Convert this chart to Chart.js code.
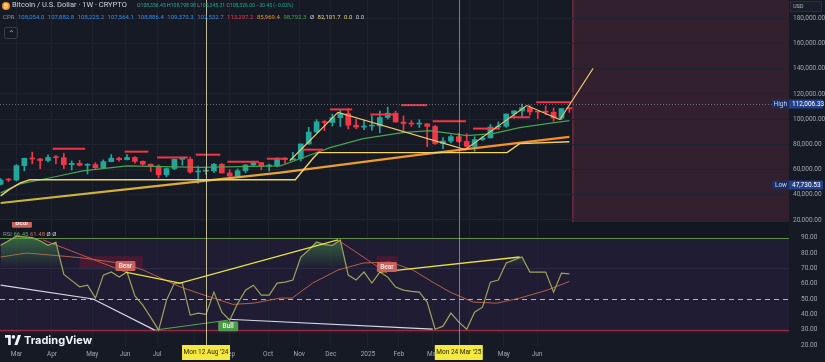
<!DOCTYPE html>
<html>
<head>
<meta charset="utf-8">
<script src="https://cdn.jsdelivr.net/npm/chart.js@4.4.1/dist/chart.umd.min.js"></script>
<style>
  html, body { margin: 0; padding: 0; width: 825px; height: 362px; overflow: hidden; background: #161a25; font-family: Roboto, "Liberation Sans", sans-serif; }
  #pricePane { position: absolute; left: 0; top: 0; width: 825px; height: 222px; }
  #rsiPane { position: absolute; left: 0; top: 222px; width: 825px; height: 140px; }
  .txt { position: absolute; white-space: nowrap; line-height: 1; }
  .coin { display: inline-block; width: 8px; height: 8px; border-radius: 50%; background: #f7931a; color: #fff; font-size: 6px; text-align: center; line-height: 8px; vertical-align: -1px; margin-right: 2px; }
  .g { color: #8c8f99; }
  .t { color: #22ab94; }
  .b { color: #2e8ff0; margin-right: 3.5px; }
  #cpr span { margin-right: 3.5px; }
  #btn { position: absolute; left: 4px; top: 27px; width: 12px; height: 10px; border: 1px solid #363a45; border-radius: 2px; color: #b2b5be; font-size: 8px; text-align: center; line-height: 12px; }
  #usd { position: absolute; left: 790px; top: 1px; width: 32px; height: 11px; background: #1b1f2b; border: 1px solid #2a2e39; box-sizing: border-box; color: #b2b5be; font-size: 5.5px; line-height: 9px; padding-left: 2px; }
  #logo { position: absolute; left: 5px; top: 334px; color: #f0f3fa; font-family: Inter, Roboto, sans-serif; font-weight: 700; font-size: 11px; line-height: 12px; }
  #logo svg { vertical-align: -1px; margin-right: 3px; }
</style>
</head>
<body>
<div id="pricePane"><canvas id="priceChart"></canvas></div>
<div id="rsiPane"><canvas id="rsiChart"></canvas></div>

<div class="txt" style="left:2px;top:1px;font-size:7.5px;color:#d1d4dc"><span class="coin">₿</span>Bitcoin / U.S. Dollar · 1W · CRYPTO</div>
<div class="txt" style="left:137px;top:2.5px;font-size:5.1px"><span class="g">O</span><span class="t">108,356.45 </span><span class="g">H</span><span class="t">108,798.98 </span><span class="g">L</span><span class="t">105,345.31 </span><span class="g">C</span><span class="t">108,326.00 −30.45 (−0.03%)</span></div>
<div class="txt" id="cpr" style="left:3px;top:14px;font-size:6px">
  <span class="g">CPR</span><span class="b">108,054.0</span><span class="b">107,882.8</span><span class="b">108,225.2</span><span class="b">107,564.1</span><span class="b">108,886.4</span><span class="b">109,370.3</span><span class="b">102,532.7</span><span style="color:#f23645">113,297.2</span><span style="color:#f0902a">85,969.4</span><span style="color:#43a047">98,792.3</span><span style="color:#d1d4dc">Ø</span><span style="color:#f2d36b">82,101.7</span><span style="color:#f2d36b">0.0</span><span style="color:#d1d4dc">0.0</span>
</div>
<div id="btn">⌃</div>
<div id="usd">USD</div>
<div class="txt" style="left:3px;top:231px;font-size:6px"><span class="g">RSI </span><span style="color:#5fae5a">66.45 </span><span style="color:#c0735c">61.48 </span><span style="color:#d1d4dc">Ø Ø</span></div>
<div id="logo"><svg width="16" height="10" viewBox="0 0 36 22"><path d="M0 0h13v22H7V6H0z" fill="#f0f3fa"/><circle cx="19" cy="4" r="4" fill="#f0f3fa"/><path d="M21 22L29 0h7l-8 22z" fill="#f0f3fa"/></svg>TradingView</div>

<script>
// weekly candles, first bar = week of 12 Feb 2024
const opens  = [48300, 51780, 51700, 63100, 68900, 68400, 67200, 69600, 69400, 63900, 64900, 63400, 63900, 61500, 66300, 69000, 67800, 69600, 66500, 64300, 62700, 55800, 60800, 68160, 68200, 58100, 58700, 58900, 64200, 57300, 54800, 59100, 63600, 65600, 62800, 62900, 69000, 67900, 68700, 80300, 89800, 97900, 97300, 101200, 104400, 95200, 93700, 94500, 94600, 101300, 104700, 97700, 96500, 96100, 96300, 94200, 80700, 82600, 86100, 82300, 78400, 83800, 85100, 93700, 94300, 104100, 106500, 109000, 105700, 105600, 105500, 100900, 108356];
const highs  = [52800, 52900, 64000, 69200, 73800, 68900, 71700, 71300, 72800, 66900, 67200, 64700, 65500, 67700, 71900, 70000, 71900, 70200, 66900, 64400, 63800, 61300, 68300, 69400, 70000, 62700, 61800, 65000, 64900, 59800, 60600, 64100, 66500, 65600, 64400, 69400, 69500, 73600, 80300, 93500, 99600, 98900, 104000, 107800, 108400, 99900, 99000, 102700, 106400, 109600, 106400, 102500, 98800, 99500, 96500, 95000, 85300, 87400, 88800, 88500, 86100, 86500, 95800, 97900, 104100, 106600, 112006, 110700, 106000, 110500, 108900, 108500, 108799];
const lows   = [47731, 50500, 50900, 59000, 64500, 60800, 66100, 64500, 60700, 59600, 62800, 56500, 60200, 60800, 66100, 66700, 67600, 65100, 63400, 58400, 53500, 54300, 59900, 63500, 57100, 49100, 56100, 57800, 57200, 52500, 54600, 57500, 62700, 59800, 58900, 62000, 65100, 67500, 66800, 80000, 89400, 90800, 94500, 94200, 92200, 92500, 91700, 91200, 89300, 100100, 97700, 91200, 94100, 93400, 78200, 80000, 76600, 81200, 81600, 77100, 74500, 83000, 85100, 92800, 93400, 100700, 102100, 103100, 100400, 103400, 98200, 99600, 105345];
const closes = [51700, 51700, 63100, 68900, 68400, 67200, 69600, 69400, 63900, 64900, 63400, 63900, 61500, 66300, 69000, 67800, 69600, 66500, 64300, 62700, 55800, 60800, 68160, 68250, 58100, 58700, 58900, 64200, 57300, 54800, 59100, 63600, 65600, 62800, 62900, 69000, 67900, 68700, 80300, 89800, 97900, 97300, 101200, 104400, 95200, 93700, 94500, 94600, 101300, 104700, 97700, 96500, 96100, 96300, 94200, 80700, 82600, 86100, 82300, 78400, 83800, 85100, 93700, 94300, 104100, 106500, 109000, 105700, 105600, 105500, 100900, 108400, 108326];

// overlay lines on the price pane (x = week index)
const emaX   = [0, 2.5, 6.3, 10.4, 16, 25.2, 35.4, 37.9, 41.7, 45.9, 50.9, 54.3, 59, 62.3, 65.7, 69.2, 72];
const emaY   = [41500, 48700, 53500, 59000, 63000, 61700, 63000, 68600, 77400, 84500, 89300, 90900, 86900, 88500, 93300, 96500, 98792];
const trendX = [0, 17.6, 35.4, 53.1, 72];
const trendY = [33500, 45500, 57500, 71800, 85969];
const stepX  = [0, 1.2, 2.5, 3.7, 37.3, 39.6, 40.2, 64.1, 65.7, 72];
const stepY  = [39100, 44700, 49500, 51900, 51900, 69400, 73400, 73400, 80600, 82102];
const zigX   = [36.6, 42.7, 58.8, 66.6, 70.8, 75];
const zigY   = [67000, 105300, 75800, 110800, 99700, 140300];
const pivotStart = [6.6, 15.7, 19.8, 24.7, 28.7, 33.7, 38.3, 41.7, 46.8, 50.7, 54.7, 59.8, 64.5, 67.8];
const pivotEnd   = [10.7, 18.7, 23.7, 27.8, 32.7, 36.3, 40.8, 44.5, 49.9, 54.0, 58.9, 63.2, 67.0, 72.2];
const pivotLevel = [76600, 74200, 69600, 71800, 66200, 68600, 75800, 107700, 103700, 111100, 98300, 92500, 101500, 113297];
const highValue = 112006.33, lowValue = 47730.53;
const forecastStart = 72.35;

// RSI pane
const rsi = [85, 88, 91, 90.5, 90, 88, 85, 87, 66, 62, 58, 59, 50.6, 65.6, 67.6, 64.3, 67.6, 52, 46, 38, 29.7, 49.3, 60.4, 60.4, 39.5, 40.8, 40, 54.5, 41.4, 36.2, 47, 55.8, 59, 52.5, 52.5, 60.4, 61, 62.4, 77.4, 82, 87.2, 85.5, 85, 88.5, 65.6, 62.4, 67.6, 60.4, 67.6, 64.3, 57.8, 55.8, 55, 54.5, 48, 30.3, 32.3, 40.8, 34.9, 30.3, 41.4, 44.7, 61, 62.4, 73.5, 75.5, 77.4, 67.6, 67.6, 67.6, 54.5, 66.9, 66.45];
const rsiMaX = [0, 3.3, 6.3, 10, 15.7, 18, 22.7, 25.2, 29.4, 32, 35.4, 36.9, 39.5, 42.7, 45.9, 49.3, 52.2, 54.7, 56.9, 59.8, 62.8, 65.7, 69.2, 72];
const rsiMaY = [77.4, 80, 78.7, 77, 73, 69, 58, 53.5, 46.5, 47.3, 50.6, 50.6, 60.4, 68.9, 73.5, 74.1, 68.9, 61, 54.5, 48, 47.3, 50.6, 55.8, 61.48];
const bearLines  = [[[5.4, 88.5], [15.8, 67.6]], [[42.7, 88.5], [48.9, 67.0]]];
const bullLines  = [[[19.5, 29.7], [28.8, 36.2]]];
const whiteLines = [[[0, 59.1], [11.7, 50], [19.5, 29.7]], [[28.8, 36.8], [54.7, 30.3]]];
const yellowLines = [[[15.8, 67.6], [22.7, 60.4], [42.7, 88.5]], [[48, 67.6], [65.7, 77.4]]];
const signalText = ['Bear', 'Bear', 'Bull', 'Bear'];
const signalX    = [15.8, 48.9, 28.8, 2.7];
const signalY    = [67.6, 67.0, 36.2, 95.8];
const signalUp   = [true, true, false, true];
const zoneX1 = [10, 47.6], zoneX2 = [18, 50.3], zoneY1 = [78, 78], zoneY2 = [69, 67.6];

// axes
const monthTickIdx    = [2.0, 6.5, 11.6, 15.75, 19.8, 24.5, 29.0, 33.85, 37.8, 41.8, 46.5, 50.4, 54.7, 59.3, 63.7, 67.9];
const monthTickLabels = ['Mar', 'Apr', 'May', 'Jun', 'Jul', 'Aug', 'Sep', 'Oct', 'Nov', 'Dec', '2025', 'Feb', 'Mar', 'Apr', 'May', 'Jun'];
const priceTicks = [20000, 40000, 60000, 80000, 100000, 120000, 140000, 160000, 180000];
const rsiTicks = [20, 30, 40, 50, 60, 70, 80, 90];
const markerIdx = [26, 58];
const markerText = ["Mon 12 Aug '24", "Mon 24 Mar '25"];

const X_MIN = -0.08, X_MAX = 99.8;
const P_MIN = 18406, P_MAX = 194502;
const R_MIN = 18.7, R_MAX = 100.24;
const AXIS_W = 36;
const GRID = '#1f2330';
const TEXT = '#a3a6af';
const UP = '#26a69a', DOWN = '#f23645';

Chart.defaults.font.family = 'Roboto, "Liberation Sans", sans-serif';

const weeks = opens.map((_, i) => i);
const isUp = i => closes[i] >= opens[i];
const pts = (xs, ys) => xs.map((x, k) => ({x: x, y: ys[k]}));
const line = (data, color, width, extra) => Object.assign({
  type: 'line', data: data, borderColor: color, borderWidth: width,
  pointRadius: 0, tension: 0, fill: false, order: 1
}, extra || {});

function drawMarkers(chart, bottomExtra) {
  const {ctx, chartArea: a, scales: {x}} = chart;
  ctx.save();
  markerIdx.forEach((m, k) => {
    const px = Math.round(x.getPixelForValue(m)) + 0.5;
    ctx.strokeStyle = k === 0 ? 'rgba(222,214,172,0.85)' : 'rgba(190,190,182,0.6)';
    ctx.lineWidth = 1;
    ctx.beginPath();
    ctx.moveTo(px, a.top);
    ctx.lineTo(px, a.bottom + bottomExtra);
    ctx.stroke();
  });
  ctx.restore();
}

const priceDecor = {
  id: 'priceDecor',
  beforeDraw(chart) {
    const {ctx, chartArea: a, scales: {x}} = chart;
    const fx = x.getPixelForValue(forecastStart);
    ctx.save();
    ctx.fillStyle = '#33202e';
    ctx.fillRect(fx, a.top, a.right - fx, a.bottom - a.top);
    ctx.fillStyle = '#6d2c3e';
    ctx.fillRect(fx, a.top, 1.5, a.bottom - a.top);
    ctx.restore();
  },
  afterDatasetsDraw(chart) {
    const {ctx, chartArea: a, scales: {y}} = chart;
    const hy = Math.round(y.getPixelForValue(highValue)) + 0.5;
    ctx.save();
    ctx.strokeStyle = 'rgba(170,170,185,0.55)';
    ctx.setLineDash([1, 2]);
    ctx.beginPath();
    ctx.moveTo(a.left, hy);
    ctx.lineTo(a.right, hy);
    ctx.stroke();
    ctx.restore();
    drawMarkers(chart, 0);
  },
  afterDraw(chart) {
    const {ctx, chartArea: a, scales: {y}} = chart;
    ctx.save();
    ctx.font = '6.5px Roboto, sans-serif';
    ctx.textBaseline = 'middle';
    [[highValue, 'High'], [lowValue, 'Low']].forEach(([v, name]) => {
      const py = y.getPixelForValue(v);
      ctx.fillStyle = '#1c2e5e';
      ctx.fillRect(a.right - 17, py - 4.5, 17, 9);
      ctx.fillStyle = '#23408a';
      ctx.fillRect(a.right, py - 4.5, 34, 9);
      ctx.fillStyle = '#c9d3f0';
      ctx.textAlign = 'right';
      ctx.fillText(name, a.right - 2, py + 0.5);
      ctx.fillStyle = '#ffffff';
      ctx.textAlign = 'left';
      ctx.fillText(v.toLocaleString('en-US', {minimumFractionDigits: 2, maximumFractionDigits: 2}), a.right + 3, py + 0.5);
    });
    ctx.restore();
  }
};

const rsiDecor = {
  id: 'rsiDecor',
  beforeDraw(chart) {
    const {ctx, chartArea: a, scales: {y}} = chart;
    const y90 = y.getPixelForValue(90), y30 = y.getPixelForValue(30);
    ctx.save();
    ctx.fillStyle = '#131722';
    ctx.fillRect(a.left, a.top, a.right - a.left, y90 - a.top);
    ctx.fillStyle = '#1f1c34';
    ctx.fillRect(a.left, y90, a.right - a.left, y30 - y90);
    ctx.fillStyle = '#2a1727';
    ctx.fillRect(a.left, y30, a.right - a.left, 4);
    ctx.restore();
  },
  beforeDatasetsDraw(chart) {
    const {ctx, chartArea: a, scales: {x, y}} = chart;
    ctx.save();
    ctx.fillStyle = 'rgba(120,22,52,0.45)';
    zoneX1.forEach((z, k) => {
      const x1 = x.getPixelForValue(z), x2 = x.getPixelForValue(zoneX2[k]);
      const y1 = y.getPixelForValue(zoneY1[k]), y2 = y.getPixelForValue(zoneY2[k]);
      ctx.fillRect(x1, y1, x2 - x1, y2 - y1);
    });
    const hl = (v, color, w, dash) => {
      const py = Math.round(y.getPixelForValue(v)) + 0.5;
      ctx.strokeStyle = color; ctx.lineWidth = w; ctx.setLineDash(dash);
      ctx.beginPath(); ctx.moveTo(a.left, py); ctx.lineTo(a.right, py); ctx.stroke();
    };
    hl(70, '#2d2a45', 1, []);
    hl(90, '#5e8f45', 1, []);
    hl(50, '#a7b6de', 1, [5, 4]);
    hl(30, '#8c2f42', 1.5, []);
    ctx.restore();
  },
  afterDatasetsDraw(chart) {
    const {ctx, chartArea: a, scales: {x, y}} = chart;
    ctx.save();
    ctx.beginPath();
    ctx.rect(a.left, a.top, a.right - a.left, a.bottom - a.top);
    ctx.clip();
    ctx.font = '600 6.5px Roboto, sans-serif';
    ctx.textAlign = 'center';
    ctx.textBaseline = 'middle';
    signalText.forEach((t, k) => {
      const px = x.getPixelForValue(signalX[k]);
      const py = y.getPixelForValue(signalY[k]);
      const top = signalUp[k] ? py - 11 : py + 1;
      const bear = t === 'Bear';
      ctx.fillStyle = bear ? '#c8625a' : '#4f9a4c';
      ctx.beginPath();
      ctx.roundRect(px - 10, top, 20, 10, 1.5);
      ctx.fill();
      ctx.fillStyle = bear ? '#f6e6e3' : '#e6f3e2';
      ctx.fillText(t, px, top + 5.5);
    });
    ctx.restore();
    drawMarkers(chart, -2);
  },
  afterDraw(chart) {
    const {ctx, chartArea: a, scales: {x}} = chart;
    ctx.save();
    ctx.font = '6.5px Roboto, sans-serif';
    ctx.textAlign = 'center';
    ctx.textBaseline = 'middle';
    markerIdx.forEach((m, k) => {
      const px = x.getPixelForValue(m);
      ctx.fillStyle = '#f5e93f';
      ctx.fillRect(px - 24, a.bottom - 2, 48, 15);
      ctx.fillStyle = '#1d1d16';
      ctx.fillText(markerText[k], px, a.bottom + 5.5);
    });
    ctx.restore();
  }
};

const noPad = s => { s.paddingTop = 0; s.paddingBottom = 0; s.paddingLeft = 0; s.paddingRight = 0; };

const baseX = (showTicks) => ({
  type: 'linear', min: X_MIN, max: X_MAX, offset: false,
  afterBuildTicks: s => { s.ticks = monthTickIdx.map(v => ({value: v})); },
  afterFit: s => { s.height = showTicks ? 15 : 0; noPad(s); },
  ticks: {display: showTicks, autoSkip: false, maxRotation: 0, color: TEXT, padding: 3,
          font: {size: 6.5}, callback: (v, i) => monthTickLabels[i]},
  grid: {color: GRID, drawTicks: false, offset: false},
  border: {display: false}
});

const priceDatasets = [
  {type: 'bar', label: 'wick', data: weeks.map(i => ({x: i, y: [lows[i], highs[i]]})),
   backgroundColor: c => isUp(c.dataIndex) ? UP : DOWN, barThickness: 1, grouped: false, order: 6},
  {type: 'bar', label: 'body', data: weeks.map(i => ({x: i, y: [opens[i], closes[i]]})),
   backgroundColor: c => isUp(c.dataIndex) ? UP : DOWN, barThickness: 5, minBarLength: 1, grouped: false, order: 5},
  line(pts(trendX, trendY), c => {
    const a = c.chart.chartArea;
    if (!a) return '#f0902a';
    const g = c.chart.ctx.createLinearGradient(a.left, 0, c.chart.scales.x.getPixelForValue(72), 0);
    g.addColorStop(0, '#c9b83c'); g.addColorStop(0.5, '#e9a233'); g.addColorStop(1, '#ff8a22');
    return g;
  }, 2.2, {order: 4}),
  line(pts(stepX, stepY), '#f2d36b', 1.4, {order: 3}),
  line(pts(emaX, emaY), '#46a34f', 1.2, {order: 3}),
  line(pts(zigX, zigY), '#f1c76c', 1.1, {order: 1})
].concat(pivotStart.map((s, k) =>
  line(pts([s, pivotEnd[k]], [pivotLevel[k], pivotLevel[k]]), '#f23645', 2, {order: 2})));

new Chart(document.getElementById('priceChart'), {
  type: 'bar',
  data: {datasets: priceDatasets},
  options: {
    responsive: true, maintainAspectRatio: false, animation: false,
    layout: {padding: 0},
    plugins: {legend: {display: false}, tooltip: {enabled: false}},
    scales: {
      x: baseX(false),
      y: {
        position: 'right', min: P_MIN, max: P_MAX,
        afterBuildTicks: s => { s.ticks = priceTicks.map(v => ({value: v})); },
        afterFit: s => { s.width = AXIS_W; noPad(s); },
        ticks: {color: TEXT, padding: 4, font: {size: 6.5},
                callback: v => v.toLocaleString('en-US', {minimumFractionDigits: 2})},
        grid: {color: GRID, drawTicks: false},
        border: {display: false}
      }
    }
  },
  plugins: [priceDecor]
});

const rsiDatasets = [
  line(rsi.map((v, i) => ({x: i, y: v})), '#9ea35c', 1.2, {
    order: 2,
    fill: {target: {value: 70}, below: 'rgba(0,0,0,0)'},
    backgroundColor: c => {
      const ch = c.chart;
      if (!ch.chartArea) return 'rgba(76,175,80,0.3)';
      const y = ch.scales.y;
      const g = ch.ctx.createLinearGradient(0, y.getPixelForValue(100), 0, y.getPixelForValue(70));
      g.addColorStop(0, 'rgba(76,175,80,0.75)');
      g.addColorStop(1, 'rgba(76,175,80,0)');
      return g;
    }
  }),
  line(pts(rsiMaX, rsiMaY), '#b5614b', 1, {order: 3})
]
  .concat(bearLines.map(l => line(l.map(p => ({x: p[0], y: p[1]})), '#c0584e', 1, {order: 4})))
  .concat(bullLines.map(l => line(l.map(p => ({x: p[0], y: p[1]})), '#5aa552', 1, {order: 4})))
  .concat(whiteLines.map(l => line(l.map(p => ({x: p[0], y: p[1]})), '#d6d8e2', 1.2, {order: 4})))
  .concat(yellowLines.map(l => line(l.map(p => ({x: p[0], y: p[1]})), '#e7e23c', 1.3, {order: 1})));

new Chart(document.getElementById('rsiChart'), {
  type: 'line',
  data: {datasets: rsiDatasets},
  options: {
    responsive: true, maintainAspectRatio: false, animation: false,
    layout: {padding: 0},
    plugins: {legend: {display: false}, tooltip: {enabled: false}},
    scales: {
      x: baseX(true),
      y: {
        position: 'right', min: R_MIN, max: R_MAX,
        afterBuildTicks: s => { s.ticks = rsiTicks.map(v => ({value: v})); },
        afterFit: s => { s.width = AXIS_W; noPad(s); },
        ticks: {color: TEXT, padding: 4, font: {size: 6.5}, callback: v => v.toFixed(2)},
        grid: {display: false},
        border: {display: false}
      }
    }
  },
  plugins: [rsiDecor]
});
</script>
</body>
</html>
